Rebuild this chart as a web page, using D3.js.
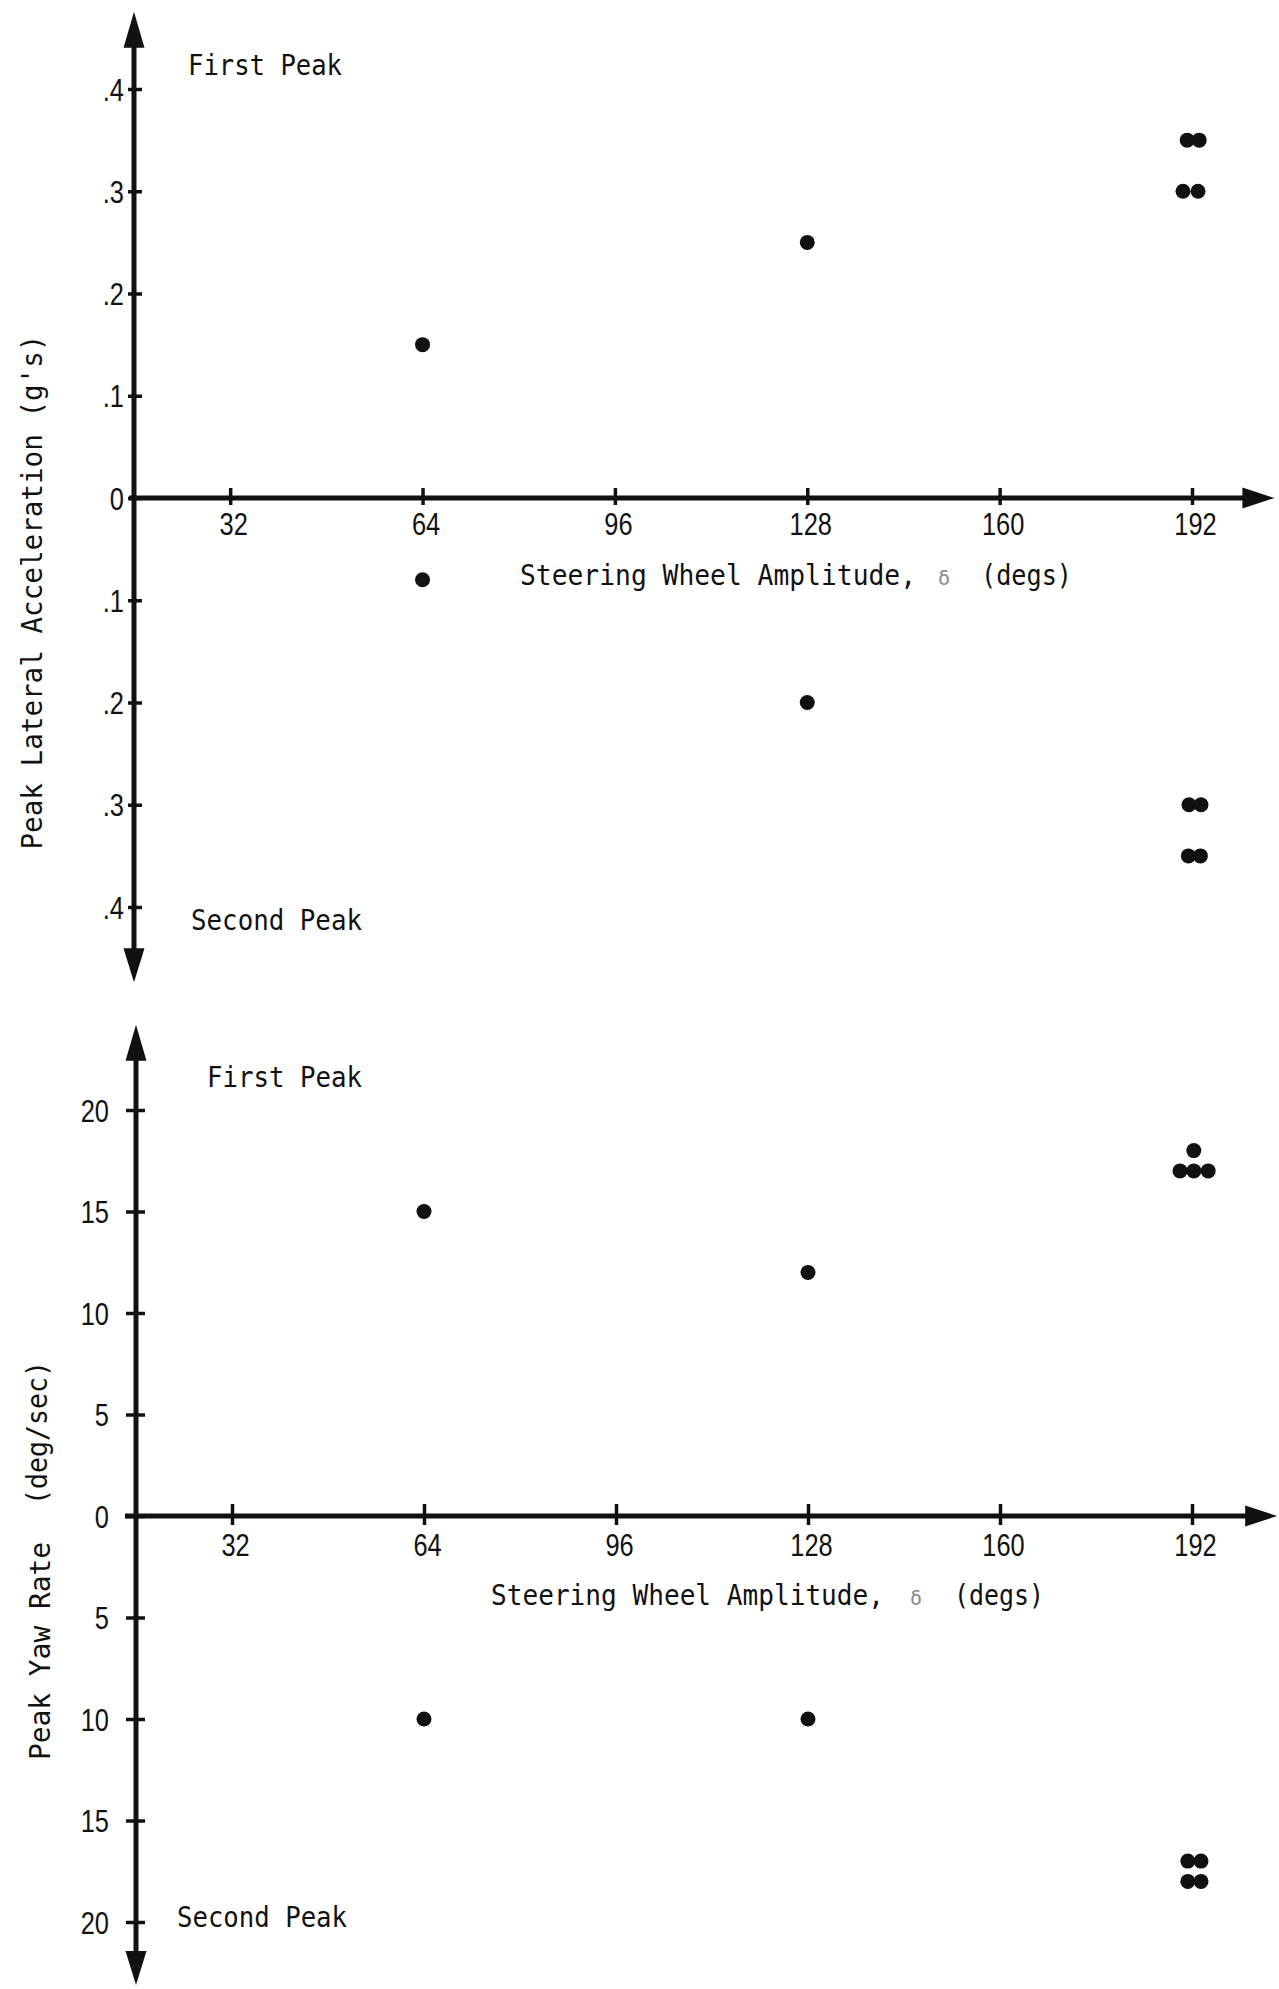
<!DOCTYPE html>
<html>
<head>
<meta charset="utf-8">
<script src="https://cdn.jsdelivr.net/npm/d3@7"></script>
<style>
  body { margin: 0; background: #fff; }
  svg text { font-family: "DejaVu Sans Mono", "Liberation Mono", monospace; fill: #111; }
  svg .tick text { font-family: "Liberation Sans", Arial, sans-serif; }
</style>
</head>
<body>
<svg id="chart" width="1279" height="1989"></svg>
<script>
// ---- data -------------------------------------------------------------
const amplitudeTicks = [32, 64, 96, 128, 160, 192];
const accelTicks = [-0.4, -0.3, -0.2, -0.1, 0, 0.1, 0.2, 0.3, 0.4];
const yawTicks = [-20, -15, -10, -5, 0, 5, 10, 15, 20];

// Peak lateral acceleration (g's): first peak above the axis, second peak below
const accelAmplitude = [64, 128, 191.2, 193.2, 190.5, 193.0, 64, 128, 191.5, 193.5, 191.4, 193.4];
const accelPeak      = [0.15, 0.25, 0.35, 0.35, 0.30, 0.30, -0.08, -0.20, -0.30, -0.30, -0.35, -0.35];

// Peak yaw rate (deg/sec): first peak above the axis, second peak below
const yawAmplitude = [64, 128, 192.3, 190.0, 192.3, 194.7, 64, 128, 191.3, 193.5, 191.3, 193.5];
const yawPeak      = [15, 12, 18, 17, 17, 17, -10, -10, -17, -17, -18, -18];

const xTitleParts = ["Steering Wheel Amplitude,", "\u03b4", "(degs)"];

// ---- drawing -----------------------------------------------------------
const svg = d3.select("#chart");
const INK = "#111";
const DIGIT_SQUEEZE = 0.82;

function arrowHead(g, tip, dir, len, half) {
  // dir: unit vector pointing toward the tip
  const [tx, ty] = tip, [dx, dy] = dir;
  const bx = tx - dx * len, by = ty - dy * len;
  const px = -dy * half, py = dx * half;
  g.append("path")
    .attr("d", `M${tx},${ty}L${bx + px},${by + py}L${bx - px},${by - py}Z`)
    .attr("fill", INK);
}

function drawPanel(p) {
  const g = svg.append("g");
  const x = d3.scaleLinear().domain([16, 192]).range(p.xRange);
  const y = d3.scaleLinear().domain(p.yDomain).range(p.yRange);
  const x0 = x(16), y0 = y(0);

  // x axis with ticks crossing the line
  const xa = g.append("g").attr("transform", `translate(0,${y0})`)
    .call(d3.axisBottom(x).tickValues(amplitudeTicks).tickSize(0).tickFormat(d3.format("d")));
  xa.select(".domain").remove();
  xa.selectAll(".tick line").attr("y1", p.xTick[0]).attr("y2", p.xTick[1])
    .attr("stroke", INK).attr("stroke-width", 3.5);
  xa.selectAll(".tick text").attr("y", p.xLabelY).attr("dy", 0)
    .attr("x", 3 / DIGIT_SQUEEZE)
    .attr("font-size", 31).attr("font-family", null).attr("fill", INK)
    .attr("transform", `scale(${DIGIT_SQUEEZE},1)`);

  // y axis, magnitude labels on both sides of zero
  const ya = g.append("g").attr("transform", `translate(${x0},0)`)
    .call(d3.axisLeft(y).tickValues(p.yTicks).tickSize(0).tickFormat(p.yFormat));
  ya.select(".domain").remove();
  ya.selectAll(".tick line").attr("x1", p.yTick[0]).attr("x2", p.yTick[1])
    .attr("stroke", INK).attr("stroke-width", 3.5);
  ya.selectAll(".tick text").attr("x", p.yLabelX / DIGIT_SQUEEZE).attr("dy", "0.36em")
    .attr("font-size", 31).attr("font-family", null).attr("fill", INK)
    .attr("transform", `scale(${DIGIT_SQUEEZE},1)`);

  // axis lines with arrow heads
  const yTop = y(p.yEnds[0]), yBot = y(p.yEnds[1]);
  g.append("line").attr("x1", x0).attr("x2", x0)
    .attr("y1", yTop + 20).attr("y2", yBot - 20)
    .attr("stroke", INK).attr("stroke-width", 5);
  arrowHead(g, [x0, yTop], [0, -1], 36, 10.5);
  arrowHead(g, [x0, yBot], [0, 1], 34, 10.5);

  const xEnd = x(p.xEnd);
  g.append("line").attr("x1", x0 - p.xLead).attr("x2", xEnd - 20)
    .attr("y1", y0).attr("y2", y0)
    .attr("stroke", INK).attr("stroke-width", 5);
  arrowHead(g, [xEnd, y0], [1, 0], 32, 10.5);

  // data points
  const pts = p.ys.map((v, i) => ({ a: p.xs[i], v }));
  g.append("g").selectAll("circle").data(pts).join("circle")
    .attr("cx", d => x(d.a)).attr("cy", d => y(d.v)).attr("r", 7.5)
    .attr("fill", INK);

  // labels
  const lab = (txt, lx, ly, w) => g.append("text").attr("x", lx).attr("y", ly)
    .attr("font-size", 28).attr("textLength", w).attr("lengthAdjust", "spacingAndGlyphs")
    .text(txt);
  lab("First Peak", p.first[0], p.first[1], p.first[2]);
  lab("Second Peak", p.second[0], p.second[1], p.second[2]);

  // x-axis title: words, a faint delta, then units
  const [tx, ty] = p.xTitle;
  lab(xTitleParts[0], tx[0], ty, tx[1]);
  g.append("text").attr("x", tx[2]).attr("y", ty).attr("text-anchor", "middle")
    .attr("font-size", 20).attr("fill", "#8a8a8a").style("fill", "#8a8a8a")
    .text(xTitleParts[1]);
  lab(xTitleParts[2], tx[3], ty, tx[4]);

  p.yTitles.forEach(([txt, bx, cy, w]) => {
    g.append("text").attr("transform", `translate(${bx},${cy}) rotate(-90)`)
      .attr("text-anchor", "middle").attr("font-size", 28)
      .attr("textLength", w).attr("lengthAdjust", "spacingAndGlyphs")
      .text(txt);
  });
}

// Lateral acceleration panel
drawPanel({
  xRange: [134, 1192],
  yDomain: [-0.4, 0.4], yRange: [907, 89],
  yTicks: accelTicks,
  yFormat: d => d === 0 ? "0" : "." + Math.round(Math.abs(d) * 10),
  yEnds: [0.4755, -0.4736],
  xEnd: 205.7, xLead: 5,
  xTick: [-10, 7], yTick: [-6, 8],
  xLabelY: 37, yLabelX: -10,
  xs: accelAmplitude, ys: accelPeak,
  first: [188, 75, 154],
  second: [191, 930, 171],
  xTitle: [[520, 396, 944, 981, 91], 585],
  yTitles: [["Peak Lateral Acceleration (g's)", 42, 592, 515]]
});

// Yaw rate panel
drawPanel({
  xRange: [136, 1192],
  yDomain: [-20, 20], yRange: [1922, 1110],
  yTicks: yawTicks,
  yFormat: d => String(Math.abs(d)),
  yEnds: [24.2, -23.1],
  xEnd: 206.2, xLead: 11,
  xTick: [-12, 9], yTick: [-10, 9],
  xLabelY: 40, yLabelX: -27,
  xs: yawAmplitude, ys: yawPeak,
  first: [207, 1087, 155],
  second: [177, 1927, 170],
  xTitle: [[491, 393, 916, 954, 90], 1605],
  yTitles: [["Peak Yaw Rate", 50, 1651, 218], ["(deg/sec)", 47, 1433, 144]]
});
</script>
</body>
</html>
